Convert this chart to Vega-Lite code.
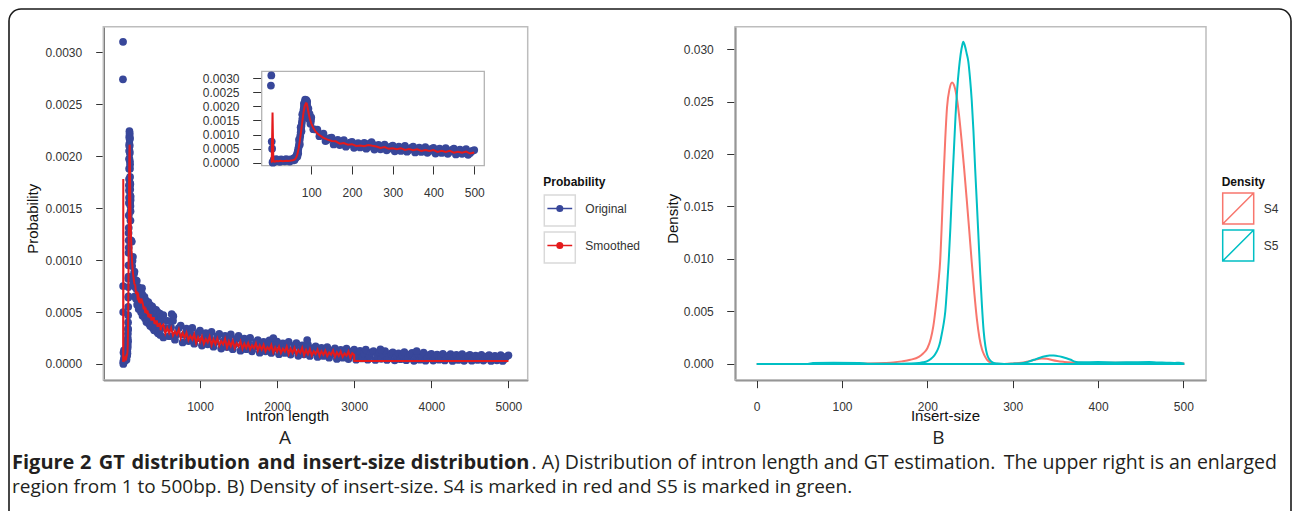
{
"$schema": "https://vega.github.io/schema/vega-lite/v6.json",
"width": 1282,
"height": 520,
"autosize": "none",
"padding": {"left": 9, "top": 9, "right": 1, "bottom": -18},
"background": "white",
"config": {
  "view": {"stroke": "#1a1a1a", "strokeWidth": 1.6, "cornerRadius": 12, "fill": "white"},
  "axis": {"labelFont": "Liberation Sans", "labelFontSize": 12, "labelColor": "#333333", "titleFont": "Liberation Sans", "titleFontSize": 15, "titleFontWeight": "normal", "titleColor": "#111111", "tickColor": "#333333", "tickWidth": 1, "domainColor": "#222222", "domainWidth": 1.6, "grid": false, "labelFlush": false, "labelOverlap": false, "zindex": 1},
  "legend": {"labelFont": "Liberation Sans", "labelFontSize": 12, "labelColor": "#333333", "titleFont": "Liberation Sans", "titleFontSize": 12, "titleFontWeight": "bold", "titleColor": "#111111", "padding": 0, "rowPadding": 0, "labelOffset": 9, "titlePadding": 3, "direction": "vertical"}
},
"datasets": {
  "one": [{}],
  "orig": [
{"l":1,"p":2.74e-3},{"l":2,"p":3.1e-3},{"l":3,"p":7.5e-4},{"l":4,"p":5e-4},{"l":5,"p":2e-5},{"l":6,"p":0},{"l":8,"p":1.1e-4},{"l":11,"p":4e-5},{"l":14,"p":1.3e-4},{"l":17,"p":6e-5},{"l":20,"p":9e-5},{"l":23,"p":3e-5},{"l":26,"p":1.2e-4},{"l":29,"p":7e-5},{"l":32,"p":1e-4},{"l":35,"p":5e-5},{"l":38,"p":1.3e-4},{"l":41,"p":8e-5},{"l":44,"p":1.1e-4},{"l":47,"p":4e-5},{"l":50,"p":1.2e-4},{"l":53,"p":9e-5},{"l":55,"p":8e-5},{"l":56,"p":1.4e-4},{"l":57,"p":1.2e-4},{"l":58,"p":1.6e-4},{"l":59,"p":1e-4},
{"l":60,"p":1.5e-4},{"l":61,"p":1.7e-4},{"l":62,"p":1.9e-4},{"l":63,"p":2.2e-4},{"l":64,"p":2.5e-4},{"l":65,"p":2.9e-4},{"l":66,"p":3.4e-4},{"l":67,"p":4e-4},{"l":68,"p":4.7e-4},{"l":69,"p":5.5e-4},{"l":70,"p":6.4e-4},{"l":71,"p":7.4e-4},{"l":72,"p":8.4e-4},{"l":73,"p":9.5e-4},{"l":74,"p":1.07e-3},{"l":75,"p":1.19e-3},{"l":76,"p":1.31e-3},{"l":77,"p":1.43e-3},{"l":78,"p":1.55e-3},{"l":79,"p":1.67e-3},{"l":80,"p":1.78e-3},{"l":81,"p":1.88e-3},{"l":82,"p":1.97e-3},{"l":83,"p":2.05e-3},{"l":84,"p":2.12e-3},{"l":85,"p":2.18e-3},{"l":86,"p":2.2e-3},{"l":87,"p":2.18e-3},{"l":88,"p":2.16e-3},{"l":89,"p":2.1e-3},{"l":90,"p":2.03e-3},{"l":91,"p":1.95e-3},{"l":92,"p":1.88e-3},{"l":93,"p":1.8e-3},{"l":94,"p":1.74e-3},{"l":95,"p":1.68e-3},{"l":96,"p":1.62e-3},{"l":97,"p":1.57e-3},{"l":98,"p":1.52e-3},{"l":99,"p":1.47e-3},
{"l":66,"p":2.2e-4},{"l":68,"p":3.3e-4},{"l":70,"p":8.2e-4},{"l":72,"p":6.5e-4},{"l":74,"p":1.26e-3},{"l":76,"p":1.12e-3},{"l":78,"p":1.72e-3},{"l":80,"p":1.6e-3},{"l":82,"p":2.1e-3},{"l":84,"p":1.98e-3},{"l":85,"p":2.24e-3},{"l":86,"p":2.05e-3},{"l":88,"p":2.22e-3},{"l":90,"p":2.17e-3},{"l":92,"p":1.72e-3},{"l":93,"p":1.92e-3},{"l":95,"p":1.54e-3},{"l":96,"p":1.73e-3},{"l":98,"p":1.38e-3},{"l":99,"p":1.58e-3},
{"l":100,"p":16.1e-4},{"l":105,"p":11.9e-4},{"l":110,"p":11.8e-4},{"l":115,"p":11.78e-4},{"l":120,"p":9.43e-4},{"l":125,"p":9.93e-4},{"l":130,"p":10.31e-4},{"l":135,"p":7.71e-4},{"l":140,"p":8.13e-4},{"l":145,"p":8.71e-4},{"l":150,"p":8.9e-4},{"l":155,"p":6.5e-4},{"l":160,"p":7.4e-4},{"l":165,"p":8.08e-4},{"l":170,"p":6.28e-4},{"l":175,"p":7.23e-4},{"l":180,"p":8.01e-4},{"l":185,"p":5.71e-4},{"l":190,"p":6.38e-4},{"l":195,"p":7.16e-4},
{"l":200,"p":7.4e-4},{"l":205,"p":5.3e-4},{"l":210,"p":6.25e-4},{"l":215,"p":6.95e-4},{"l":220,"p":5.4e-4},{"l":225,"p":6.3e-4},{"l":230,"p":7.05e-4},{"l":235,"p":5.0e-4},{"l":240,"p":5.6e-4},{"l":245,"p":6.35e-4},{"l":250,"p":6.7e-4},{"l":255,"p":4.65e-4},{"l":260,"p":5.6e-4},{"l":265,"p":6.3e-4},{"l":270,"p":4.75e-4},{"l":275,"p":5.7e-4},{"l":280,"p":6.45e-4},{"l":285,"p":4.4e-4},{"l":290,"p":5.0e-4},{"l":295,"p":5.75e-4},
{"l":300,"p":6.1e-4},{"l":305,"p":4.05e-4},{"l":310,"p":5.0e-4},{"l":315,"p":5.75e-4},{"l":320,"p":4.2e-4},{"l":325,"p":5.2e-4},{"l":330,"p":5.95e-4},{"l":335,"p":3.9e-4},{"l":340,"p":4.55e-4},{"l":345,"p":5.3e-4},{"l":350,"p":5.7e-4},{"l":355,"p":3.65e-4},{"l":360,"p":4.6e-4},{"l":365,"p":5.35e-4},{"l":370,"p":3.8e-4},{"l":375,"p":4.8e-4},{"l":380,"p":5.55e-4},{"l":385,"p":3.5e-4},{"l":390,"p":4.15e-4},{"l":395,"p":4.9e-4},
{"l":400,"p":5.3e-4},{"l":405,"p":3.25e-4},{"l":410,"p":4.2e-4},{"l":415,"p":5.0e-4},{"l":420,"p":3.45e-4},{"l":425,"p":4.45e-4},{"l":430,"p":5.2e-4},{"l":435,"p":3.15e-4},{"l":440,"p":3.85e-4},{"l":445,"p":4.6e-4},{"l":450,"p":5.0e-4},{"l":455,"p":2.95e-4},{"l":460,"p":3.9e-4},{"l":465,"p":4.65e-4},{"l":470,"p":3.15e-4},{"l":475,"p":4.1e-4},{"l":480,"p":4.85e-4},{"l":485,"p":2.8e-4},{"l":490,"p":3.45e-4},{"l":495,"p":4.2e-4},
{"l":500,"p":4.5e-4},{"l":525,"p":2.55e-4},{"l":550,"p":3.46e-4},{"l":575,"p":4.14e-4},{"l":600,"p":2.68e-4},{"l":625,"p":3.52e-4},{"l":650,"p":4.15e-4},{"l":675,"p":2.34e-4},{"l":700,"p":2.87e-4},{"l":725,"p":3.46e-4},{"l":750,"p":3.70e-4},{"l":775,"p":2.07e-4},{"l":800,"p":2.82e-4},{"l":825,"p":3.40e-4},{"l":850,"p":2.21e-4},{"l":875,"p":2.93e-4},{"l":900,"p":3.47e-4},{"l":925,"p":1.96e-4},{"l":950,"p":2.44e-4},{"l":975,"p":2.97e-4},
{"l":1000,"p":3.20e-4},{"l":1025,"p":1.77e-4},{"l":1050,"p":2.44e-4},{"l":1075,"p":2.97e-4},{"l":1100,"p":1.89e-4},{"l":1125,"p":2.56e-4},{"l":1150,"p":3.09e-4},{"l":1175,"p":1.66e-4},{"l":1200,"p":2.12e-4},{"l":1225,"p":2.65e-4},{"l":1250,"p":2.90e-4},{"l":1275,"p":1.48e-4},{"l":1300,"p":2.16e-4},{"l":1325,"p":2.70e-4},{"l":1350,"p":1.63e-4},{"l":1375,"p":2.31e-4},{"l":1400,"p":2.85e-4},{"l":1425,"p":1.43e-4},{"l":1450,"p":1.90e-4},{"l":1475,"p":2.44e-4},
{"l":1500,"p":2.70e-4},{"l":1525,"p":1.28e-4},{"l":1550,"p":1.94e-4},{"l":1575,"p":2.45e-4},{"l":1600,"p":1.42e-4},{"l":1625,"p":2.05e-4},{"l":1650,"p":2.52e-4},{"l":1675,"p":1.22e-4},{"l":1700,"p":1.64e-4},{"l":1725,"p":2.10e-4},{"l":1750,"p":2.30e-4},{"l":1775,"p":1.09e-4},{"l":1800,"p":1.67e-4},{"l":1825,"p":2.14e-4},{"l":1850,"p":1.22e-4},{"l":1875,"p":1.81e-4},{"l":1900,"p":2.27e-4},{"l":1925,"p":1.06e-4},{"l":1950,"p":1.46e-4},{"l":1975,"p":1.93e-4},
{"l":2000,"p":2.15e-4},{"l":2025,"p":0.94e-4},{"l":2050,"p":1.52e-4},{"l":2075,"p":1.99e-4},{"l":2100,"p":1.07e-4},{"l":2125,"p":1.66e-4},{"l":2150,"p":2.12e-4},{"l":2175,"p":0.91e-4},{"l":2200,"p":1.31e-4},{"l":2225,"p":1.78e-4},{"l":2250,"p":2.00e-4},{"l":2275,"p":0.79e-4},{"l":2300,"p":1.36e-4},{"l":2325,"p":1.80e-4},{"l":2350,"p":0.93e-4},{"l":2375,"p":1.47e-4},{"l":2400,"p":1.87e-4},{"l":2425,"p":0.78e-4},{"l":2450,"p":1.14e-4},{"l":2475,"p":1.53e-4},
{"l":2500,"p":1.70e-4},{"l":2525,"p":0.68e-4},{"l":2550,"p":1.16e-4},{"l":2575,"p":1.54e-4},{"l":2600,"p":0.77e-4},{"l":2625,"p":1.25e-4},{"l":2650,"p":1.63e-4},{"l":2675,"p":0.61e-4},{"l":2700,"p":0.94e-4},{"l":2725,"p":1.32e-4},{"l":2750,"p":1.50e-4},{"l":2775,"p":0.49e-4},{"l":2800,"p":0.98e-4},{"l":2825,"p":1.37e-4},{"l":2850,"p":0.61e-4},{"l":2875,"p":1.10e-4},{"l":2900,"p":1.49e-4},{"l":2925,"p":0.48e-4},{"l":2950,"p":0.82e-4},{"l":2975,"p":1.21e-4},
{"l":3000,"p":1.38e-4},{"l":3025,"p":0.41e-4},{"l":3050,"p":0.88e-4},{"l":3075,"p":1.26e-4},{"l":3100,"p":0.53e-4},{"l":3125,"p":1.00e-4},{"l":3150,"p":1.38e-4},{"l":3175,"p":0.41e-4},{"l":3200,"p":0.74e-4},{"l":3225,"p":1.12e-4},{"l":3250,"p":1.24e-4},{"l":3275,"p":0.39e-4},{"l":3300,"p":0.80e-4},{"l":3325,"p":1.14e-4},{"l":3350,"p":0.50e-4},{"l":3375,"p":0.91e-4},{"l":3400,"p":1.23e-4},{"l":3425,"p":0.39e-4},{"l":3450,"p":0.68e-4},{"l":3475,"p":1.01e-4},
{"l":3500,"p":1.13e-4},{"l":3525,"p":0.36e-4},{"l":3550,"p":0.74e-4},{"l":3575,"p":1.03e-4},{"l":3600,"p":0.46e-4},{"l":3625,"p":0.83e-4},{"l":3650,"p":1.14e-4},{"l":3675,"p":0.37e-4},{"l":3700,"p":0.63e-4},{"l":3725,"p":0.93e-4},{"l":3750,"p":1.08e-4},{"l":3775,"p":0.31e-4},{"l":3800,"p":0.69e-4},{"l":3825,"p":0.98e-4},{"l":3850,"p":0.41e-4},{"l":3875,"p":0.78e-4},{"l":3900,"p":1.09e-4},{"l":3925,"p":0.32e-4},{"l":3950,"p":0.58e-4},{"l":3975,"p":0.88e-4},
{"l":4000,"p":0.97e-4},{"l":4025,"p":0.33e-4},{"l":4050,"p":0.64e-4},{"l":4075,"p":0.90e-4},{"l":4100,"p":0.42e-4},{"l":4125,"p":0.73e-4},{"l":4150,"p":0.98e-4},{"l":4175,"p":0.34e-4},{"l":4200,"p":0.56e-4},{"l":4225,"p":0.81e-4},{"l":4250,"p":0.94e-4},{"l":4275,"p":0.30e-4},{"l":4300,"p":0.61e-4},{"l":4325,"p":0.87e-4},{"l":4350,"p":0.39e-4},{"l":4375,"p":0.71e-4},{"l":4400,"p":0.95e-4},{"l":4425,"p":0.31e-4},{"l":4450,"p":0.54e-4},{"l":4475,"p":0.79e-4},
{"l":4500,"p":0.88e-4},{"l":4525,"p":0.32e-4},{"l":4550,"p":0.59e-4},{"l":4575,"p":0.81e-4},{"l":4600,"p":0.39e-4},{"l":4625,"p":0.66e-4},{"l":4650,"p":0.89e-4},{"l":4675,"p":0.33e-4},{"l":4700,"p":0.51e-4},{"l":4725,"p":0.74e-4},{"l":4750,"p":0.85e-4},{"l":4775,"p":0.29e-4},{"l":4800,"p":0.56e-4},{"l":4825,"p":0.78e-4},{"l":4850,"p":0.36e-4},{"l":4875,"p":0.64e-4},{"l":4900,"p":0.86e-4},{"l":4925,"p":0.30e-4},{"l":4950,"p":0.49e-4},{"l":4975,"p":0.72e-4},{"l":5000,"p":0.83e-4},
{"l":243,"p":6.8e-4},{"l":248,"p":7.3e-4},{"l":524,"p":4.7e-4},{"l":633,"p":4.8e-4},{"l":654,"p":4.6e-4},{"l":1951,"p":2.5e-4},{"l":2390,"p":2.3e-4},{"l":3340,"p":1.4e-4},{"l":3810,"p":1.25e-4}
  ],
  "smooth": [
{"l":1,"p":0.2e-4},{"l":3,"p":0.3e-4},{"l":4,"p":9e-4},{"l":5,"p":17.8e-4},{"l":6,"p":9e-4},{"l":7,"p":0.6e-4},{"l":10,"p":0.4e-4},{"l":15,"p":0.6e-4},{"l":20,"p":0.5e-4},{"l":25,"p":0.7e-4},{"l":30,"p":0.5e-4},{"l":35,"p":0.6e-4},{"l":40,"p":0.7e-4},{"l":45,"p":0.6e-4},{"l":50,"p":0.8e-4},{"l":55,"p":0.9e-4},{"l":60,"p":1.2e-4},{"l":63,"p":1.8e-4},{"l":66,"p":3.0e-4},{"l":69,"p":5.0e-4},{"l":72,"p":7.8e-4},{"l":75,"p":11.0e-4},{"l":78,"p":14.5e-4},{"l":81,"p":17.8e-4},{"l":84,"p":20.2e-4},{"l":87,"p":21.1e-4},{"l":89,"p":21.0e-4},{"l":91,"p":19.6e-4},{"l":93,"p":18.0e-4},{"l":95,"p":16.6e-4},{"l":97,"p":15.3e-4},{"l":100,"p":14.0e-4},{"l":105,"p":12.4e-4},{"l":110,"p":11.2e-4},{"l":115,"p":10.4e-4},{"l":120,"p":9.8e-4},{"l":130,"p":8.8e-4},{"l":140,"p":8.2e-4},{"l":150,"p":7.7e-4},
{"l":160,"p":7.6e-4},{"l":170,"p":6.75e-4},{"l":180,"p":7.0e-4},{"l":190,"p":6.42e-4},{"l":200,"p":6.59e-4},{"l":210,"p":5.93e-4},{"l":220,"p":6.14e-4},{"l":230,"p":5.83e-4},{"l":240,"p":6.3e-4},{"l":250,"p":6.0e-4},{"l":260,"p":5.75e-4},{"l":270,"p":5.27e-4},{"l":280,"p":5.54e-4},{"l":290,"p":4.93e-4},{"l":300,"p":5.14e-4},{"l":310,"p":4.83e-4},{"l":320,"p":5.15e-4},{"l":330,"p":4.5e-4},{"l":340,"p":4.85e-4},{"l":350,"p":4.42e-4},{"l":360,"p":4.79e-4},{"l":370,"p":4.18e-4},{"l":380,"p":4.49e-4},{"l":390,"p":4.18e-4},{"l":400,"p":4.5e-4},{"l":410,"p":3.85e-4},{"l":420,"p":4.2e-4},{"l":430,"p":3.82e-4},{"l":440,"p":4.19e-4},{"l":450,"p":3.58e-4},{"l":460,"p":3.89e-4},{"l":470,"p":3.58e-4},{"l":480,"p":3.95e-4},{"l":490,"p":3.25e-4},{"l":500,"p":3.6e-4},
{"l":525,"p":3.79e-4},{"l":550,"p":2.93e-4},{"l":575,"p":3.48e-4},{"l":600,"p":2.98e-4},{"l":625,"p":3.48e-4},{"l":650,"p":2.74e-4},{"l":675,"p":3.16e-4},{"l":700,"p":2.83e-4},{"l":725,"p":3.33e-4},{"l":750,"p":2.47e-4},{"l":775,"p":3.01e-4},{"l":800,"p":2.51e-4},{"l":825,"p":3.02e-4},{"l":850,"p":2.28e-4},{"l":875,"p":2.70e-4},{"l":900,"p":2.36e-4},{"l":925,"p":2.87e-4},{"l":950,"p":2.01e-4},{"l":975,"p":2.58e-4},{"l":1000,"p":2.11e-4},
{"l":1025,"p":2.65e-4},{"l":1050,"p":1.94e-4},{"l":1075,"p":2.40e-4},{"l":1100,"p":2.09e-4},{"l":1125,"p":2.63e-4},{"l":1150,"p":1.80e-4},{"l":1175,"p":2.38e-4},{"l":1200,"p":1.91e-4},{"l":1225,"p":2.45e-4},{"l":1250,"p":1.74e-4},{"l":1275,"p":2.20e-4},{"l":1300,"p":1.89e-4},{"l":1325,"p":2.43e-4},{"l":1350,"p":1.60e-4},{"l":1375,"p":2.18e-4},{"l":1400,"p":1.71e-4},{"l":1425,"p":2.25e-4},{"l":1450,"p":1.54e-4},{"l":1475,"p":2.00e-4},{"l":1500,"p":1.69e-4},
{"l":1525,"p":2.18e-4},{"l":1550,"p":1.45e-4},{"l":1575,"p":1.96e-4},{"l":1600,"p":1.55e-4},{"l":1625,"p":2.02e-4},{"l":1650,"p":1.40e-4},{"l":1675,"p":1.80e-4},{"l":1700,"p":1.53e-4},{"l":1725,"p":2.00e-4},{"l":1750,"p":1.28e-4},{"l":1775,"p":1.78e-4},{"l":1800,"p":1.37e-4},{"l":1825,"p":1.84e-4},{"l":1850,"p":1.22e-4},{"l":1875,"p":1.62e-4},{"l":1900,"p":1.35e-4},{"l":1925,"p":1.82e-4},{"l":1950,"p":1.10e-4},{"l":1975,"p":1.60e-4},{"l":2000,"p":1.19e-4},
{"l":2025,"p":1.67e-4},{"l":2050,"p":1.06e-4},{"l":2075,"p":1.47e-4},{"l":2100,"p":1.20e-4},{"l":2125,"p":1.68e-4},{"l":2150,"p":0.96e-4},{"l":2175,"p":1.48e-4},{"l":2200,"p":1.07e-4},{"l":2225,"p":1.55e-4},{"l":2250,"p":0.94e-4},{"l":2275,"p":1.35e-4},{"l":2300,"p":1.08e-4},{"l":2325,"p":1.56e-4},{"l":2350,"p":0.84e-4},{"l":2375,"p":1.36e-4},{"l":2400,"p":0.95e-4},{"l":2425,"p":1.43e-4},{"l":2450,"p":0.82e-4},{"l":2475,"p":1.23e-4},{"l":2500,"p":0.96e-4},
{"l":2525,"p":1.39e-4},{"l":2550,"p":0.78e-4},{"l":2575,"p":1.22e-4},{"l":2600,"p":0.88e-4},{"l":2625,"p":1.29e-4},{"l":2650,"p":0.76e-4},{"l":2675,"p":1.11e-4},{"l":2700,"p":0.89e-4},{"l":2725,"p":1.30e-4},{"l":2750,"p":0.69e-4},{"l":2775,"p":1.13e-4},{"l":2800,"p":0.79e-4},{"l":2825,"p":1.20e-4},{"l":2850,"p":0.68e-4},{"l":2875,"p":1.02e-4},{"l":2900,"p":0.80e-4},{"l":2925,"p":1.21e-4},{"l":2950,"p":0.60e-4},{"l":2975,"p":1.04e-4},{"l":3000,"p":0.88e-4},
{"l":3001,"p":0.29e-4},{"l":5000,"p":0.29e-4}
  ],
  "dens": [
{"x":0,"d":0,"s":"S4"},{"x":50,"d":0,"s":"S4"},{"x":100,"d":0.00002,"s":"S4"},{"x":130,"d":0.00005,"s":"S4"},{"x":150,"d":0.0001,"s":"S4"},{"x":160,"d":0.00015,"s":"S4"},{"x":170,"d":0.00025,"s":"S4"},{"x":180,"d":0.0004,"s":"S4"},{"x":190,"d":0.00068,"s":"S4"},{"x":195,"d":0.001,"s":"S4"},{"x":200,"d":0.0015,"s":"S4"},{"x":204,"d":0.0024,"s":"S4"},{"x":207,"d":0.0036,"s":"S4"},{"x":210,"d":0.0055,"s":"S4"},{"x":213,"d":0.0078,"s":"S4"},{"x":215,"d":0.0098,"s":"S4"},{"x":217,"d":0.0135,"s":"S4"},{"x":219,"d":0.0178,"s":"S4"},{"x":221,"d":0.0215,"s":"S4"},{"x":223,"d":0.0244,"s":"S4"},{"x":226,"d":0.0262,"s":"S4"},{"x":229,"d":0.0268,"s":"S4"},{"x":231,"d":0.0266,"s":"S4"},{"x":234,"d":0.0256,"s":"S4"},{"x":237,"d":0.0238,"s":"S4"},{"x":240,"d":0.0214,"s":"S4"},{"x":243,"d":0.0187,"s":"S4"},{"x":246,"d":0.0158,"s":"S4"},{"x":249,"d":0.0128,"s":"S4"},{"x":252,"d":0.0097,"s":"S4"},{"x":255,"d":0.0068,"s":"S4"},{"x":258,"d":0.0043,"s":"S4"},{"x":261,"d":0.0025,"s":"S4"},{"x":264,"d":0.0014,"s":"S4"},{"x":267,"d":0.0008,"s":"S4"},{"x":270,"d":0.0004,"s":"S4"},{"x":275,"d":0.00012,"s":"S4"},{"x":280,"d":0.00002,"s":"S4"},{"x":290,"d":0.00001,"s":"S4"},{"x":300,"d":0.00005,"s":"S4"},{"x":310,"d":0.00012,"s":"S4"},{"x":318,"d":0.00025,"s":"S4"},{"x":326,"d":0.0004,"s":"S4"},{"x":334,"d":0.00052,"s":"S4"},{"x":340,"d":0.0005,"s":"S4"},{"x":346,"d":0.00038,"s":"S4"},{"x":352,"d":0.00028,"s":"S4"},{"x":360,"d":0.0002,"s":"S4"},{"x":370,"d":0.00014,"s":"S4"},{"x":385,"d":0.0001,"s":"S4"},{"x":400,"d":0.0001,"s":"S4"},{"x":430,"d":0.00012,"s":"S4"},{"x":460,"d":0.0001,"s":"S4"},{"x":490,"d":0.00008,"s":"S4"},{"x":500,"d":0.00005,"s":"S4"},
{"x":0,"d":0,"s":"S5"},{"x":60,"d":0,"s":"S5"},{"x":66,"d":0.0001,"s":"S5"},{"x":90,"d":0.00012,"s":"S5"},{"x":120,"d":0.0001,"s":"S5"},{"x":130,"d":0.00003,"s":"S5"},{"x":160,"d":0.00002,"s":"S5"},{"x":180,"d":0.00005,"s":"S5"},{"x":190,"d":0.0001,"s":"S5"},{"x":195,"d":0.00016,"s":"S5"},{"x":200,"d":0.00028,"s":"S5"},{"x":204,"d":0.00048,"s":"S5"},{"x":207,"d":0.0007,"s":"S5"},{"x":210,"d":0.00105,"s":"S5"},{"x":213,"d":0.00155,"s":"S5"},{"x":215,"d":0.0021,"s":"S5"},{"x":217,"d":0.0029,"s":"S5"},{"x":219,"d":0.0038,"s":"S5"},{"x":221,"d":0.005,"s":"S5"},{"x":223,"d":0.0072,"s":"S5"},{"x":225,"d":0.0098,"s":"S5"},{"x":227,"d":0.013,"s":"S5"},{"x":229,"d":0.0168,"s":"S5"},{"x":231,"d":0.0202,"s":"S5"},{"x":233,"d":0.0236,"s":"S5"},{"x":235,"d":0.0262,"s":"S5"},{"x":237,"d":0.0281,"s":"S5"},{"x":239,"d":0.0295,"s":"S5"},{"x":241,"d":0.0304,"s":"S5"},{"x":242,"d":0.0307,"s":"S5"},{"x":244,"d":0.0303,"s":"S5"},{"x":246,"d":0.0296,"s":"S5"},{"x":248,"d":0.0288,"s":"S5"},{"x":250,"d":0.0272,"s":"S5"},{"x":252,"d":0.0251,"s":"S5"},{"x":254,"d":0.0222,"s":"S5"},{"x":256,"d":0.0186,"s":"S5"},{"x":258,"d":0.0153,"s":"S5"},{"x":260,"d":0.0119,"s":"S5"},{"x":262,"d":0.0085,"s":"S5"},{"x":264,"d":0.0055,"s":"S5"},{"x":266,"d":0.0031,"s":"S5"},{"x":268,"d":0.0017,"s":"S5"},{"x":270,"d":0.0009,"s":"S5"},{"x":273,"d":0.0004,"s":"S5"},{"x":277,"d":0.00012,"s":"S5"},{"x":282,"d":0.00004,"s":"S5"},{"x":290,"d":0,"s":"S5"},{"x":300,"d":0.00003,"s":"S5"},{"x":310,"d":0.00008,"s":"S5"},{"x":318,"d":0.0002,"s":"S5"},{"x":325,"d":0.0004,"s":"S5"},{"x":332,"d":0.0006,"s":"S5"},{"x":338,"d":0.00074,"s":"S5"},{"x":343,"d":0.00082,"s":"S5"},{"x":348,"d":0.0008,"s":"S5"},{"x":353,"d":0.00075,"s":"S5"},{"x":358,"d":0.00066,"s":"S5"},{"x":363,"d":0.00055,"s":"S5"},{"x":368,"d":0.0004,"s":"S5"},{"x":373,"d":0.00022,"s":"S5"},{"x":380,"d":0.00016,"s":"S5"},{"x":400,"d":0.00018,"s":"S5"},{"x":420,"d":0.00015,"s":"S5"},{"x":440,"d":0.00017,"s":"S5"},{"x":460,"d":0.00019,"s":"S5"},{"x":470,"d":0.00014,"s":"S5"},{"x":480,"d":0.00013,"s":"S5"},{"x":490,"d":0.0001,"s":"S5"},{"x":495,"d":0.00012,"s":"S5"},{"x":500,"d":0.00005,"s":"S5"}
  ]
},
"resolve": {"scale": {"x": "independent", "y": "independent", "color": "independent"}, "axis": {"x": "independent", "y": "independent"}, "legend": {"color": "independent"}},
"layer": [
  {
    "layer": [
      {
        "data": {"name": "one"},
        "mark": {"type": "rect", "fill": "transparent", "stroke": "#bdbdbd", "strokeWidth": 1.5},
        "encoding": {
          "x": {"datum": -254, "type": "quantitative"},
          "x2": {"datum": 5250},
          "y": {"datum": -0.000154, "type": "quantitative"},
          "y2": {"datum": 0.003246}
        }
      },
      {
        "data": {"name": "orig"},
        "mark": {"type": "circle", "size": 60},
        "encoding": {
          "x": {"field": "l", "type": "quantitative",
                "scale": {"domain": [-254, 5250], "range": [94.3, 518.7], "zero": false, "nice": false},
                "axis": {"orient": "bottom", "offset": -149, "values": [1000, 2000, 3000, 4000, 5000], "format": "d", "tickSize": 7.7, "labelPadding": 13.5, "title": "Intron length", "titleX": 278, "titleY": 40.7, "titleAlign": "center", "titleBaseline": "alphabetic"}},
          "y": {"field": "p", "type": "quantitative",
                "scale": {"domain": [-0.000154, 0.003246], "range": [371, 17.7], "zero": false, "nice": false},
                "axis": {"orient": "left", "offset": -94.3, "values": [0, 0.0005, 0.001, 0.0015, 0.002, 0.0025, 0.003], "format": ".4f", "tickSize": 7.6, "labelPadding": 14, "title": "Probability", "titleX": -65.6, "titleY": 209.3, "titleAngle": 270, "titleAlign": "center", "titleBaseline": "alphabetic"}},
          "color": {"datum": "Original", "type": "nominal",
                    "scale": {"domain": ["Original", "Smoothed"], "range": ["#38479A", "#E41A1C"]},
                    "legend": {"title": "Probability", "orient": "none", "legendX": 534.3, "legendY": 168, "rowPadding": 0, "symbolType": "M0,-1M0,1M-0.8,0H0.8M-0.18,0A0.18,0.18,0,1,1,0.18,0A0.18,0.18,0,1,1,-0.18,0Z", "symbolSize": 961, "symbolStrokeWidth": 1.5,
                               "encoding": {"symbols": {"fill": {"value": {"expr": "datum.value === 'Original' ? '#38479A' : '#E41A1C'"}}, "stroke": {"value": {"expr": "datum.value === 'Original' ? '#38479A' : '#E41A1C'"}}, "opacity": {"value": 1}}}}},
          "opacity": {"datum": "o", "type": "ordinal",
                   "scale": {"domain": ["o", "s"], "range": [1, 1]},
                   "legend": {"title": null, "orient": "none", "legendX": 534.3, "legendY": 185, "rowPadding": 0, "symbolType": "square", "symbolSize": 961, "symbolStrokeWidth": 1.5, "labelOpacity": 0, "labelExpr": "''", "labelFontSize": 1,
                              "encoding": {"symbols": {"fill": {"value": "transparent"}, "stroke": {"value": "#d9d9d9"}, "strokeWidth": {"value": 1.5}, "opacity": {"value": 1}}}}}
        }
      },
      {
        "data": {"name": "smooth"},
        "mark": {"type": "line", "strokeWidth": 2},
        "encoding": {
          "x": {"field": "l", "type": "quantitative"},
          "y": {"field": "p", "type": "quantitative"},
          "color": {"datum": "Smoothed", "type": "nominal"}
        }
      },
      {
        "data": {"name": "one"},
        "mark": {"type": "text", "text": "A", "font": "Open Sans", "fontSize": 19, "align": "center", "baseline": "alphabetic", "color": "#222222"},
        "encoding": {"x": {"datum": 2102.5, "type": "quantitative"}, "y": {"datum": -0.00077, "type": "quantitative"}}
      },
      {
        "data": {"name": "one"},
        "mark": {"type": "text", "text": "Figure", "font": "Open Sans", "fontSize": 20, "fontWeight": "bold", "align": "left", "baseline": "alphabetic", "color": "#231f20"},
        "encoding": {"x": {"datum": -1438.1, "type": "quantitative"}, "y": {"datum": -0.0010105, "type": "quantitative"}}
      },
      {
        "data": {"name": "one"},
        "mark": {"type": "text", "text": "2", "font": "Open Sans", "fontSize": 20, "fontWeight": "bold", "align": "left", "baseline": "alphabetic", "color": "#231f20"},
        "encoding": {"x": {"datum": -555.3, "type": "quantitative"}, "y": {"datum": -0.0010105, "type": "quantitative"}}
      },
      {
        "data": {"name": "one"},
        "mark": {"type": "text", "text": "GT", "font": "Open Sans", "fontSize": 20, "fontWeight": "bold", "align": "left", "baseline": "alphabetic", "color": "#231f20"},
        "encoding": {"x": {"datum": -313.1, "type": "quantitative"}, "y": {"datum": -0.0010105, "type": "quantitative"}}
      },
      {
        "data": {"name": "one"},
        "mark": {"type": "text", "text": "distribution", "font": "Open Sans", "fontSize": 20, "fontWeight": "bold", "align": "left", "baseline": "alphabetic", "color": "#231f20"},
        "encoding": {"x": {"datum": 110.6, "type": "quantitative"}, "y": {"datum": -0.0010105, "type": "quantitative"}}
      },
      {
        "data": {"name": "one"},
        "mark": {"type": "text", "text": "and", "font": "Open Sans", "fontSize": 20, "fontWeight": "bold", "align": "left", "baseline": "alphabetic", "color": "#231f20"},
        "encoding": {"x": {"datum": 1745.6, "type": "quantitative"}, "y": {"datum": -0.0010105, "type": "quantitative"}}
      },
      {
        "data": {"name": "one"},
        "mark": {"type": "text", "text": "insert-size", "font": "Open Sans", "fontSize": 20, "fontWeight": "bold", "align": "left", "baseline": "alphabetic", "color": "#231f20"},
        "encoding": {"x": {"datum": 2328.8, "type": "quantitative"}, "y": {"datum": -0.0010105, "type": "quantitative"}}
      },
      {
        "data": {"name": "one"},
        "mark": {"type": "text", "text": "distribution", "font": "Open Sans", "fontSize": 20, "fontWeight": "bold", "align": "right", "baseline": "alphabetic", "color": "#231f20"},
        "encoding": {"x": {"datum": 5273.4, "type": "quantitative"}, "y": {"datum": -0.0010105, "type": "quantitative"}}
      },
      {
        "data": {"name": "one"},
        "mark": {"type": "text", "text": ". A) Distribution of intron length and GT estimation.", "font": "Open Sans", "fontSize": 19.5, "align": "left", "baseline": "alphabetic", "color": "#231f20"},
        "encoding": {"x": {"datum": 5299.3, "type": "quantitative"}, "y": {"datum": -0.0010105, "type": "quantitative"}}
      },
      {
        "data": {"name": "one"},
        "mark": {"type": "text", "text": "The upper right is an enlarged", "font": "Open Sans", "fontSize": 19.5, "align": "right", "baseline": "alphabetic", "color": "#231f20"},
        "encoding": {"x": {"datum": 14967.7, "type": "quantitative"}, "y": {"datum": -0.0010105, "type": "quantitative"}}
      },
      {
        "data": {"name": "one"},
        "mark": {"type": "text", "text": "region from 1 to 500bp. B) Density of insert-size. S4 is marked in red and S5 is marked in green.", "font": "Open Sans", "fontSize": 19, "align": "left", "baseline": "alphabetic", "color": "#231f20"},
        "encoding": {"x": {"datum": -1438.1, "type": "quantitative"}, "y": {"datum": -0.0012415, "type": "quantitative"}}
      }
    ]
  },
  {
    "layer": [
      {
        "data": {"name": "one"},
        "mark": {"type": "rect", "fill": "white", "stroke": "#b3b3b3", "strokeWidth": 1.3},
        "encoding": {
          "x": {"datum": -21.6, "type": "quantitative",
                "scale": {"domain": [-21.6, 524.7], "range": [252.7, 475.3], "zero": false, "nice": false},
                "axis": {"orient": "bottom", "offset": -363.3, "values": [100, 200, 300, 400, 500], "format": "d", "tickSize": 8.3, "labelPadding": 13.5, "domain": false, "title": null}},
          "x2": {"datum": 524.7},
          "y": {"datum": -0.000107, "type": "quantitative",
                "scale": {"domain": [-0.000107, 0.003249], "range": [156.7, 62.3], "zero": false, "nice": false},
                "axis": {"orient": "left", "offset": -252.7, "values": [0, 0.0005, 0.001, 0.0015, 0.002, 0.0025, 0.003], "format": ".4f", "tickSize": 9, "labelPadding": 13.7, "domain": false, "title": null}},
          "y2": {"datum": 0.003249}
        }
      },
      {
        "data": {"name": "orig"},
        "transform": [{"filter": "datum.l <= 500"}],
        "mark": {"type": "circle", "size": 60, "opacity": 1, "color": "#38479A"},
        "encoding": {
          "x": {"field": "l", "type": "quantitative"},
          "y": {"field": "p", "type": "quantitative"}
        }
      },
      {
        "data": {"name": "smooth"},
        "transform": [{"filter": "datum.l <= 500"}],
        "mark": {"type": "line", "strokeWidth": 2, "color": "#E41A1C"},
        "encoding": {
          "x": {"field": "l", "type": "quantitative"},
          "y": {"field": "p", "type": "quantitative"}
        }
      }
    ]
  },
  {
    "layer": [
      {
        "data": {"name": "one"},
        "mark": {"type": "rect", "fill": "transparent", "stroke": "#bdbdbd", "strokeWidth": 1.5},
        "encoding": {
          "x": {"datum": -25.4, "type": "quantitative"},
          "x2": {"datum": 526.5},
          "y": {"datum": -0.001524, "type": "quantitative"},
          "y2": {"datum": 0.032124}
        }
      },
      {
        "data": {"name": "dens"},
        "mark": {"type": "area", "filled": false, "fill": "transparent", "strokeWidth": 2, "interpolate": "monotone"},
        "encoding": {
          "x": {"field": "x", "type": "quantitative",
                "scale": {"domain": [-25.4, 526.5], "range": [726, 1197], "zero": false, "nice": false},
                "axis": {"orient": "bottom", "offset": -149, "values": [0, 100, 200, 300, 400, 500], "format": "d", "tickSize": 7.7, "labelPadding": 13.5, "title": "Insert-size", "titleX": 936, "titleY": 40.7, "titleAlign": "center", "titleBaseline": "alphabetic"}},
          "y": {"field": "d", "type": "quantitative", "stack": null,
                "scale": {"domain": [-0.001524, 0.032124], "range": [371, 17.7], "zero": false, "nice": false},
                "axis": {"orient": "left", "offset": -726, "values": [0, 0.005, 0.01, 0.015, 0.02, 0.025, 0.03], "format": ".3f", "tickSize": 8.3, "labelPadding": 13.4, "title": "Density", "titleX": -57.6, "titleY": 209.3, "titleAngle": 270, "titleAlign": "center", "titleBaseline": "alphabetic"}},
          "color": {"field": "s", "type": "nominal",
                    "scale": {"domain": ["S4", "S5"], "range": ["#F8766D", "#00BFC4"]},
                    "legend": {"title": "Density", "orient": "none", "legendX": 1212.7, "legendY": 168, "rowPadding": 0, "symbolType": "M-1,-1H1V1H-1ZM-1,1L1,-1", "symbolSize": 961, "symbolStrokeWidth": 1.5,
                               "encoding": {"symbols": {"fill": {"value": "transparent"}, "stroke": {"value": {"expr": "datum.value === 'S4' ? '#F8766D' : '#00BFC4'"}}, "opacity": {"value": 1}}}}}
        }
      },
      {
        "data": {"name": "one"},
        "mark": {"type": "text", "text": "B", "font": "Open Sans", "fontSize": 19, "align": "center", "baseline": "alphabetic", "color": "#222222"},
        "encoding": {"x": {"datum": 212.8, "type": "quantitative"}, "y": {"datum": -0.007619, "type": "quantitative"}}
      }
    ]
  }
]
}
